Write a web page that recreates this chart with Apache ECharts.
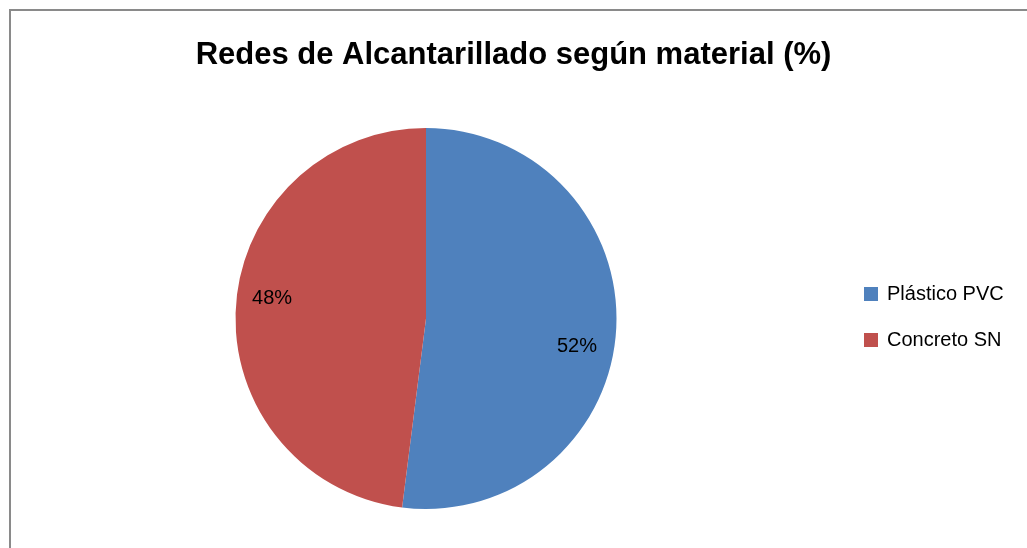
<!DOCTYPE html>
<html>
<head>
<meta charset="utf-8">
<script src="https://cdn.jsdelivr.net/npm/echarts@6/dist/echarts.min.js"></script>
<style>
  html, body { margin: 0; padding: 0; background: #fff; }
  #chart { width: 1027px; height: 548px; }
</style>
</head>
<body>
<div id="chart"></div>
<script>
// data
var categories = ['Plástico PVC', 'Concreto SN'];
var percents = [52, 48];
var colors = ['#4F81BD', '#C0504D'];

var chart = echarts.init(document.getElementById('chart'));

var pieData = categories.map(function (name, i) {
  return { name: name, value: percents[i] };
});

chart.setOption({
  animation: false,
  color: colors,
  title: {
    text: 'Redes de Alcantarillado según material (%)',
    left: 'center',
    top: 35,
    textStyle: {
      fontFamily: 'Liberation Sans',
      fontWeight: 'bold',
      fontSize: 31,
      color: '#000'
    }
  },
  legend: {
    orient: 'vertical',
    left: 859,
    top: 279,
    itemWidth: 14,
    itemHeight: 14,
    itemGap: 26,
    icon: 'rect',
    data: categories,
    textStyle: {
      fontFamily: 'Liberation Sans',
      fontSize: 20,
      color: '#000',
      padding: [0, 0, 0, 4]
    }
  },
  graphic: [{
    type: 'polyline',
    shape: { points: [[10, 548], [10, 10], [1027, 10]] },
    style: { stroke: '#8a8a8a', lineWidth: 2, fill: null },
    silent: true
  }],
  series: [{
    name: 'material',
    type: 'pie',
    center: [426, 318.5],
    radius: [0, 190.5],
    startAngle: 90,
    clockwise: true,
    label: { show: false },
    labelLine: { show: false },
    emphasis: { disabled: true },
    data: pieData
  }, {
    // invisible ring only used to place the percent labels at ~0.8 R
    name: 'labels',
    type: 'pie',
    center: [426, 318.5],
    radius: [114, 190.5],
    startAngle: 90,
    clockwise: true,
    silent: true,
    itemStyle: { color: 'rgba(0,0,0,0)' },
    label: {
      show: true,
      position: 'inside',
      formatter: '{c}%',
      fontFamily: 'Liberation Sans',
      fontSize: 20,
      color: '#000'
    },
    labelLine: { show: false },
    labelLayout: function (params) {
      return params.dataIndex === 0 ? { dx: -4, dy: 18 } : { dx: 1, dy: -10 };
    },
    data: pieData
  }]
});
</script>
</body>
</html>
